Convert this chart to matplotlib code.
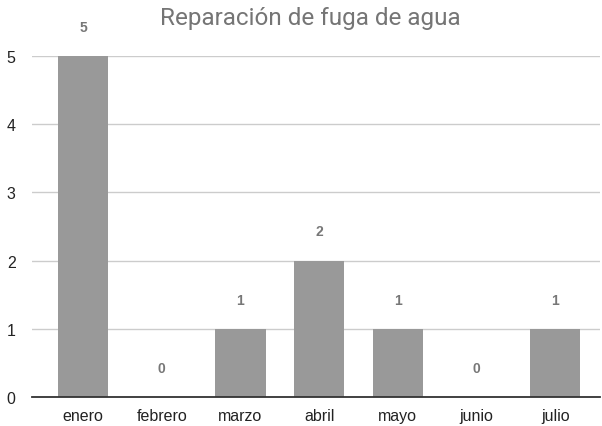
import matplotlib
matplotlib.use("Agg")
import matplotlib.pyplot as plt

months = ["enero", "febrero", "marzo", "abril", "mayo", "junio", "julio"]
counts = [5, 0, 1, 2, 1, 0, 1]
title = "Reparación de fuga de agua"

plt.rcParams['font.family'] = ['Liberation Sans', 'DejaVu Sans']

fig = plt.figure(figsize=(6.02, 4.27), dpi=100)
ax = fig.add_axes([32 / 602, 1 - 398 / 427, 568 / 602, 341 / 427])

x = list(range(len(months)))
ax.bar(x, counts, width=0.64, color="#999999", zorder=3)

for xi, v in zip(x, counts):
    ax.annotate(str(v), (xi, v), xytext=(0, 21), textcoords="offset points",
                ha="center", va="center", fontsize=10, color="#777777",
                fontweight="bold", annotation_clip=False)

ax.set_xlim(-0.65, 6.57)
ax.set_ylim(0, 5)
ax.set_yticks(range(6))
ax.set_xticks(x)
ax.set_xticklabels(months)
ax.tick_params(axis="both", length=0, labelsize=11.5, colors="#222222")
ax.tick_params(axis="x", pad=8)
ax.tick_params(axis="y", pad=15)
for lab in ax.get_yticklabels():
    lab.set_horizontalalignment("center")

ax.grid(axis="y", color="#cccccc", linewidth=1, zorder=0)
for s in ["top", "right", "left"]:
    ax.spines[s].set_visible(False)
ax.spines["bottom"].set_color("#333333")
ax.spines["bottom"].set_linewidth(1.3)
ax.spines["bottom"].set_zorder(4)

fig.text(310 / 602, 1 - 18 / 427, title, ha="center", va="center",
         fontsize=17.5, color="#757575", family=["Roboto", "DejaVu Sans"])

fig.savefig("out.png", dpi=100)
